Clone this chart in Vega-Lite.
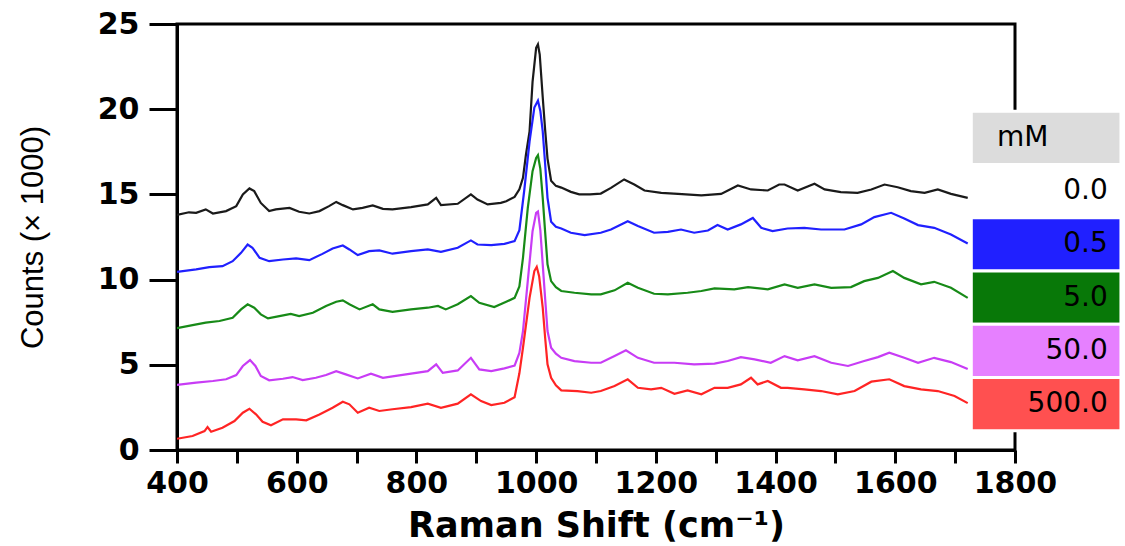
{
  "$schema": "https://vega.github.io/schema/vega-lite/v6.json",
  "background": "white",
  "padding": {"left": 17, "top": 9, "right": 2, "bottom": 2},
  "config": {"view": {"stroke": null}, "font": "DejaVu Sans"},
  "width": 838,
  "height": 426,
  "view": {"stroke": "black", "strokeWidth": 3, "fill": "white"},
  "datasets": {
    "spectra": [
      {"s":"0.0","x":400,"y":13.8},{"s":"0.0","x":420,"y":13.95},{"s":"0.0","x":432,"y":13.92},{"s":"0.0","x":448,"y":14.12},{"s":"0.0","x":460,"y":13.88},{"s":"0.0","x":482,"y":14.02},{"s":"0.0","x":499,"y":14.31},{"s":"0.0","x":510,"y":15.0},{"s":"0.0","x":521,"y":15.35},{"s":"0.0","x":529,"y":15.19},{"s":"0.0","x":540,"y":14.5},{"s":"0.0","x":554,"y":14.02},{"s":"0.0","x":565,"y":14.12},{"s":"0.0","x":588,"y":14.21},{"s":"0.0","x":604,"y":13.98},{"s":"0.0","x":621,"y":13.88},{"s":"0.0","x":638,"y":14.02},{"s":"0.0","x":654,"y":14.31},{"s":"0.0","x":666,"y":14.56},{"s":"0.0","x":677,"y":14.37},{"s":"0.0","x":694,"y":14.12},{"s":"0.0","x":710,"y":14.21},{"s":"0.0","x":727,"y":14.35},{"s":"0.0","x":744,"y":14.15},{"s":"0.0","x":760,"y":14.12},{"s":"0.0","x":791,"y":14.25},{"s":"0.0","x":819,"y":14.41},{"s":"0.0","x":833,"y":14.8},{"s":"0.0","x":841,"y":14.37},{"s":"0.0","x":869,"y":14.45},{"s":"0.0","x":891,"y":15.0},{"s":"0.0","x":902,"y":14.7},{"s":"0.0","x":919,"y":14.41},{"s":"0.0","x":941,"y":14.5},{"s":"0.0","x":950,"y":14.6},{"s":"0.0","x":964,"y":14.85},{"s":"0.0","x":972,"y":15.3},{"s":"0.0","x":978,"y":15.97},{"s":"0.0","x":983,"y":17.34},{"s":"0.0","x":989,"y":18.7},{"s":"0.0","x":994,"y":21.6},{"s":"0.0","x":1000,"y":23.6},{"s":"0.0","x":1003,"y":23.8},{"s":"0.0","x":1006,"y":23.2},{"s":"0.0","x":1011,"y":20.7},{"s":"0.0","x":1015,"y":18.8},{"s":"0.0","x":1019,"y":17.1},{"s":"0.0","x":1025,"y":15.8},{"s":"0.0","x":1033,"y":15.5},{"s":"0.0","x":1042,"y":15.4},{"s":"0.0","x":1058,"y":15.15},{"s":"0.0","x":1072,"y":15.0},{"s":"0.0","x":1090,"y":15.0},{"s":"0.0","x":1108,"y":15.05},{"s":"0.0","x":1125,"y":15.38},{"s":"0.0","x":1147,"y":15.88},{"s":"0.0","x":1164,"y":15.58},{"s":"0.0","x":1181,"y":15.23},{"s":"0.0","x":1209,"y":15.09},{"s":"0.0","x":1237,"y":15.03},{"s":"0.0","x":1276,"y":14.94},{"s":"0.0","x":1309,"y":15.03},{"s":"0.0","x":1337,"y":15.52},{"s":"0.0","x":1359,"y":15.29},{"s":"0.0","x":1387,"y":15.23},{"s":"0.0","x":1406,"y":15.58},{"s":"0.0","x":1415,"y":15.58},{"s":"0.0","x":1437,"y":15.23},{"s":"0.0","x":1465,"y":15.62},{"s":"0.0","x":1482,"y":15.29},{"s":"0.0","x":1509,"y":15.13},{"s":"0.0","x":1537,"y":15.09},{"s":"0.0","x":1560,"y":15.29},{"s":"0.0","x":1582,"y":15.58},{"s":"0.0","x":1604,"y":15.42},{"s":"0.0","x":1626,"y":15.19},{"s":"0.0","x":1649,"y":15.09},{"s":"0.0","x":1671,"y":15.29},{"s":"0.0","x":1693,"y":15.03},{"s":"0.0","x":1721,"y":14.8},
      {"s":"0.5","x":400,"y":10.45},{"s":"0.5","x":432,"y":10.6},{"s":"0.5","x":454,"y":10.73},{"s":"0.5","x":476,"y":10.79},{"s":"0.5","x":493,"y":11.08},{"s":"0.5","x":507,"y":11.57},{"s":"0.5","x":518,"y":12.06},{"s":"0.5","x":526,"y":11.87},{"s":"0.5","x":538,"y":11.28},{"s":"0.5","x":554,"y":11.08},{"s":"0.5","x":577,"y":11.18},{"s":"0.5","x":599,"y":11.24},{"s":"0.5","x":621,"y":11.14},{"s":"0.5","x":643,"y":11.51},{"s":"0.5","x":660,"y":11.83},{"s":"0.5","x":677,"y":12.0},{"s":"0.5","x":688,"y":11.77},{"s":"0.5","x":702,"y":11.44},{"s":"0.5","x":721,"y":11.67},{"s":"0.5","x":738,"y":11.71},{"s":"0.5","x":760,"y":11.52},{"s":"0.5","x":791,"y":11.67},{"s":"0.5","x":819,"y":11.77},{"s":"0.5","x":841,"y":11.63},{"s":"0.5","x":869,"y":11.87},{"s":"0.5","x":891,"y":12.3},{"s":"0.5","x":902,"y":12.06},{"s":"0.5","x":925,"y":12.02},{"s":"0.5","x":947,"y":12.1},{"s":"0.5","x":964,"y":12.26},{"s":"0.5","x":972,"y":12.9},{"s":"0.5","x":980,"y":15.2},{"s":"0.5","x":989,"y":18.1},{"s":"0.5","x":997,"y":20.1},{"s":"0.5","x":1003,"y":20.5},{"s":"0.5","x":1007,"y":19.9},{"s":"0.5","x":1011,"y":18.7},{"s":"0.5","x":1015,"y":16.8},{"s":"0.5","x":1019,"y":14.8},{"s":"0.5","x":1025,"y":13.4},{"s":"0.5","x":1033,"y":13.1},{"s":"0.5","x":1042,"y":13.0},{"s":"0.5","x":1058,"y":12.75},{"s":"0.5","x":1081,"y":12.61},{"s":"0.5","x":1108,"y":12.75},{"s":"0.5","x":1125,"y":12.94},{"s":"0.5","x":1153,"y":13.43},{"s":"0.5","x":1170,"y":13.14},{"s":"0.5","x":1197,"y":12.75},{"s":"0.5","x":1220,"y":12.8},{"s":"0.5","x":1242,"y":12.94},{"s":"0.5","x":1264,"y":12.75},{"s":"0.5","x":1287,"y":12.88},{"s":"0.5","x":1303,"y":13.2},{"s":"0.5","x":1320,"y":12.94},{"s":"0.5","x":1342,"y":13.24},{"s":"0.5","x":1362,"y":13.62},{"s":"0.5","x":1376,"y":13.04},{"s":"0.5","x":1395,"y":12.85},{"s":"0.5","x":1420,"y":13.0},{"s":"0.5","x":1448,"y":13.04},{"s":"0.5","x":1476,"y":12.94},{"s":"0.5","x":1515,"y":12.94},{"s":"0.5","x":1543,"y":13.24},{"s":"0.5","x":1565,"y":13.67},{"s":"0.5","x":1593,"y":13.92},{"s":"0.5","x":1615,"y":13.59},{"s":"0.5","x":1638,"y":13.2},{"s":"0.5","x":1665,"y":13.04},{"s":"0.5","x":1693,"y":12.65},{"s":"0.5","x":1721,"y":12.12},
      {"s":"5.0","x":400,"y":7.15},{"s":"5.0","x":426,"y":7.33},{"s":"5.0","x":448,"y":7.47},{"s":"5.0","x":471,"y":7.57},{"s":"5.0","x":493,"y":7.76},{"s":"5.0","x":507,"y":8.25},{"s":"5.0","x":518,"y":8.55},{"s":"5.0","x":529,"y":8.35},{"s":"5.0","x":540,"y":7.96},{"s":"5.0","x":552,"y":7.72},{"s":"5.0","x":571,"y":7.86},{"s":"5.0","x":590,"y":7.99},{"s":"5.0","x":604,"y":7.86},{"s":"5.0","x":627,"y":8.05},{"s":"5.0","x":649,"y":8.45},{"s":"5.0","x":666,"y":8.7},{"s":"5.0","x":677,"y":8.78},{"s":"5.0","x":688,"y":8.55},{"s":"5.0","x":705,"y":8.25},{"s":"5.0","x":727,"y":8.55},{"s":"5.0","x":738,"y":8.25},{"s":"5.0","x":760,"y":8.11},{"s":"5.0","x":791,"y":8.25},{"s":"5.0","x":819,"y":8.35},{"s":"5.0","x":836,"y":8.45},{"s":"5.0","x":849,"y":8.25},{"s":"5.0","x":869,"y":8.55},{"s":"5.0","x":891,"y":9.03},{"s":"5.0","x":905,"y":8.64},{"s":"5.0","x":930,"y":8.39},{"s":"5.0","x":950,"y":8.7},{"s":"5.0","x":964,"y":8.93},{"s":"5.0","x":972,"y":9.6},{"s":"5.0","x":978,"y":11.28},{"s":"5.0","x":986,"y":14.2},{"s":"5.0","x":994,"y":16.36},{"s":"5.0","x":1000,"y":17.14},{"s":"5.0","x":1003,"y":17.3},{"s":"5.0","x":1007,"y":16.5},{"s":"5.0","x":1011,"y":14.8},{"s":"5.0","x":1015,"y":12.8},{"s":"5.0","x":1019,"y":10.9},{"s":"5.0","x":1025,"y":9.91},{"s":"5.0","x":1033,"y":9.55},{"s":"5.0","x":1042,"y":9.33},{"s":"5.0","x":1064,"y":9.23},{"s":"5.0","x":1092,"y":9.13},{"s":"5.0","x":1108,"y":9.13},{"s":"5.0","x":1131,"y":9.37},{"s":"5.0","x":1153,"y":9.81},{"s":"5.0","x":1170,"y":9.52},{"s":"5.0","x":1197,"y":9.17},{"s":"5.0","x":1220,"y":9.13},{"s":"5.0","x":1253,"y":9.23},{"s":"5.0","x":1276,"y":9.33},{"s":"5.0","x":1298,"y":9.48},{"s":"5.0","x":1331,"y":9.43},{"s":"5.0","x":1354,"y":9.56},{"s":"5.0","x":1387,"y":9.43},{"s":"5.0","x":1415,"y":9.72},{"s":"5.0","x":1437,"y":9.52},{"s":"5.0","x":1465,"y":9.72},{"s":"5.0","x":1493,"y":9.52},{"s":"5.0","x":1526,"y":9.56},{"s":"5.0","x":1548,"y":9.91},{"s":"5.0","x":1571,"y":10.1},{"s":"5.0","x":1596,"y":10.5},{"s":"5.0","x":1615,"y":10.1},{"s":"5.0","x":1643,"y":9.72},{"s":"5.0","x":1665,"y":9.87},{"s":"5.0","x":1693,"y":9.52},{"s":"5.0","x":1721,"y":8.93},
      {"s":"50.0","x":400,"y":3.82},{"s":"50.0","x":432,"y":3.95},{"s":"50.0","x":460,"y":4.05},{"s":"50.0","x":482,"y":4.15},{"s":"50.0","x":499,"y":4.4},{"s":"50.0","x":510,"y":4.93},{"s":"50.0","x":522,"y":5.28},{"s":"50.0","x":531,"y":4.93},{"s":"50.0","x":540,"y":4.34},{"s":"50.0","x":554,"y":4.09},{"s":"50.0","x":577,"y":4.18},{"s":"50.0","x":593,"y":4.28},{"s":"50.0","x":610,"y":4.1},{"s":"50.0","x":632,"y":4.24},{"s":"50.0","x":649,"y":4.4},{"s":"50.0","x":666,"y":4.63},{"s":"50.0","x":682,"y":4.44},{"s":"50.0","x":702,"y":4.2},{"s":"50.0","x":724,"y":4.48},{"s":"50.0","x":744,"y":4.24},{"s":"50.0","x":760,"y":4.32},{"s":"50.0","x":791,"y":4.48},{"s":"50.0","x":819,"y":4.63},{"s":"50.0","x":833,"y":5.03},{"s":"50.0","x":844,"y":4.53},{"s":"50.0","x":869,"y":4.67},{"s":"50.0","x":891,"y":5.41},{"s":"50.0","x":905,"y":4.73},{"s":"50.0","x":925,"y":4.63},{"s":"50.0","x":947,"y":4.79},{"s":"50.0","x":964,"y":4.95},{"s":"50.0","x":972,"y":5.7},{"s":"50.0","x":978,"y":6.98},{"s":"50.0","x":986,"y":9.91},{"s":"50.0","x":994,"y":12.84},{"s":"50.0","x":1000,"y":13.92},{"s":"50.0","x":1003,"y":14.0},{"s":"50.0","x":1007,"y":12.9},{"s":"50.0","x":1011,"y":10.89},{"s":"50.0","x":1015,"y":8.9},{"s":"50.0","x":1019,"y":6.98},{"s":"50.0","x":1025,"y":6.0},{"s":"50.0","x":1033,"y":5.65},{"s":"50.0","x":1042,"y":5.41},{"s":"50.0","x":1064,"y":5.22},{"s":"50.0","x":1092,"y":5.12},{"s":"50.0","x":1108,"y":5.12},{"s":"50.0","x":1131,"y":5.51},{"s":"50.0","x":1150,"y":5.85},{"s":"50.0","x":1170,"y":5.41},{"s":"50.0","x":1197,"y":5.12},{"s":"50.0","x":1231,"y":5.12},{"s":"50.0","x":1264,"y":5.03},{"s":"50.0","x":1298,"y":5.07},{"s":"50.0","x":1320,"y":5.22},{"s":"50.0","x":1342,"y":5.45},{"s":"50.0","x":1365,"y":5.32},{"s":"50.0","x":1392,"y":5.12},{"s":"50.0","x":1415,"y":5.51},{"s":"50.0","x":1437,"y":5.26},{"s":"50.0","x":1465,"y":5.51},{"s":"50.0","x":1493,"y":5.12},{"s":"50.0","x":1521,"y":4.93},{"s":"50.0","x":1548,"y":5.22},{"s":"50.0","x":1571,"y":5.45},{"s":"50.0","x":1590,"y":5.71},{"s":"50.0","x":1615,"y":5.41},{"s":"50.0","x":1638,"y":5.12},{"s":"50.0","x":1665,"y":5.41},{"s":"50.0","x":1693,"y":5.16},{"s":"50.0","x":1721,"y":4.75},
      {"s":"500.0","x":400,"y":0.66},{"s":"500.0","x":426,"y":0.82},{"s":"500.0","x":446,"y":1.11},{"s":"500.0","x":451,"y":1.35},{"s":"500.0","x":457,"y":1.07},{"s":"500.0","x":476,"y":1.31},{"s":"500.0","x":496,"y":1.7},{"s":"500.0","x":510,"y":2.19},{"s":"500.0","x":521,"y":2.42},{"s":"500.0","x":532,"y":2.09},{"s":"500.0","x":543,"y":1.66},{"s":"500.0","x":557,"y":1.45},{"s":"500.0","x":577,"y":1.8},{"s":"500.0","x":599,"y":1.8},{"s":"500.0","x":616,"y":1.74},{"s":"500.0","x":638,"y":2.09},{"s":"500.0","x":660,"y":2.48},{"s":"500.0","x":677,"y":2.83},{"s":"500.0","x":688,"y":2.68},{"s":"500.0","x":702,"y":2.19},{"s":"500.0","x":721,"y":2.48},{"s":"500.0","x":738,"y":2.29},{"s":"500.0","x":760,"y":2.39},{"s":"500.0","x":791,"y":2.52},{"s":"500.0","x":819,"y":2.72},{"s":"500.0","x":841,"y":2.48},{"s":"500.0","x":869,"y":2.72},{"s":"500.0","x":891,"y":3.27},{"s":"500.0","x":908,"y":2.87},{"s":"500.0","x":925,"y":2.64},{"s":"500.0","x":947,"y":2.77},{"s":"500.0","x":964,"y":3.1},{"s":"500.0","x":972,"y":4.5},{"s":"500.0","x":978,"y":6.0},{"s":"500.0","x":989,"y":8.93},{"s":"500.0","x":997,"y":10.5},{"s":"500.0","x":1001,"y":10.75},{"s":"500.0","x":1005,"y":10.2},{"s":"500.0","x":1011,"y":8.35},{"s":"500.0","x":1015,"y":6.6},{"s":"500.0","x":1019,"y":5.03},{"s":"500.0","x":1025,"y":4.24},{"s":"500.0","x":1033,"y":3.8},{"s":"500.0","x":1042,"y":3.5},{"s":"500.0","x":1069,"y":3.46},{"s":"500.0","x":1092,"y":3.36},{"s":"500.0","x":1108,"y":3.46},{"s":"500.0","x":1131,"y":3.75},{"s":"500.0","x":1153,"y":4.15},{"s":"500.0","x":1170,"y":3.65},{"s":"500.0","x":1192,"y":3.56},{"s":"500.0","x":1209,"y":3.65},{"s":"500.0","x":1231,"y":3.3},{"s":"500.0","x":1253,"y":3.5},{"s":"500.0","x":1276,"y":3.27},{"s":"500.0","x":1298,"y":3.65},{"s":"500.0","x":1320,"y":3.65},{"s":"500.0","x":1342,"y":3.85},{"s":"500.0","x":1359,"y":4.24},{"s":"500.0","x":1370,"y":3.85},{"s":"500.0","x":1387,"y":4.05},{"s":"500.0","x":1409,"y":3.65},{"s":"500.0","x":1420,"y":3.65},{"s":"500.0","x":1448,"y":3.56},{"s":"500.0","x":1476,"y":3.46},{"s":"500.0","x":1504,"y":3.27},{"s":"500.0","x":1532,"y":3.46},{"s":"500.0","x":1560,"y":4.01},{"s":"500.0","x":1590,"y":4.15},{"s":"500.0","x":1615,"y":3.75},{"s":"500.0","x":1643,"y":3.56},{"s":"500.0","x":1671,"y":3.46},{"s":"500.0","x":1699,"y":3.17},{"s":"500.0","x":1721,"y":2.75}
    ],
    "legend": [
      {"k": "mM"}, {"k": "0.0"}, {"k": "0.5"}, {"k": "5.0"}, {"k": "50.0"}, {"k": "500.0"}
    ]
  },
  "layer": [
    {
      "data": {"name": "spectra"},
      "mark": {"type": "line", "strokeWidth": 2.2, "clip": true},
      "encoding": {
        "x": {
          "field": "x", "type": "quantitative",
          "scale": {"domain": [400, 1800], "nice": false, "zero": false},
          "axis": {
            "title": "Raman Shift (cm⁻¹)",
            "values": [400, 500, 600, 700, 800, 900, 1000, 1100, 1200, 1300, 1400, 1500, 1600, 1700, 1800],
            "format": "d",
            "labelExpr": "datum.value % 200 === 0 ? datum.label : ''",
            "grid": false,
            "domainColor": "black", "domainWidth": 3,
            "tickColor": "black", "tickWidth": 3, "tickSize": 13,
            "labelFont": "DejaVu Sans", "labelFontWeight": "bold", "labelFontSize": 30, "labelColor": "black",
            "labelPadding": 5, "labelFlush": false, "labelOverlap": false,
            "titleFont": "DejaVu Sans", "titleFontWeight": "bold", "titleFontSize": 35, "titleColor": "black",
            "titlePadding": 10
          }
        },
        "y": {
          "field": "y", "type": "quantitative",
          "scale": {"domain": [0, 25], "nice": false},
          "axis": {
            "title": "Counts (× 1000)",
            "values": [0, 5, 10, 15, 20, 25],
            "grid": false,
            "domainColor": "black", "domainWidth": 3,
            "tickColor": "black", "tickWidth": 3, "tickSize": 28,
            "labelFont": "DejaVu Sans", "labelFontWeight": "bold", "labelFontSize": 30, "labelColor": "black",
            "labelPadding": 10,
            "titleFont": "Liberation Sans", "titleFontWeight": "normal", "titleFontSize": 31, "titleColor": "black",
            "titlePadding": 48
          }
        },
        "color": {
          "field": "s", "type": "nominal",
          "scale": {"domain": ["0.0", "0.5", "5.0", "50.0", "500.0"], "range": ["#1a1a1a", "#2020ff", "#178a17", "#c83cf5", "#ff2424"]},
          "legend": null
        }
      }
    },
    {
      "data": {"name": "legend"},
      "encoding": {
        "y": {
          "field": "k", "type": "nominal", "sort": null,
          "scale": {"domain": ["mM", "0.0", "0.5", "5.0", "50.0", "500.0"], "paddingInner": 0, "paddingOuter": 1.096, "align": 0.82},
          "axis": null
        }
      },
      "layer": [
        {
          "mark": {"type": "rect", "stroke": "white", "strokeWidth": 3},
          "encoding": {
            "x": {"datum": 1727},
            "x2": {"datum": 1977},
            "fill": {
              "field": "k", "type": "nominal",
              "scale": {"domain": ["mM", "0.0", "0.5", "5.0", "50.0", "500.0"], "range": ["#dcdcdc", "#ffffff", "#2020ff", "#087808", "#e680ff", "#ff5050"]},
              "legend": null
            }
          }
        },
        {
          "transform": [{"filter": "datum.k !== 'mM'"}],
          "mark": {"type": "text", "align": "right", "baseline": "middle", "font": "DejaVu Sans", "fontSize": 28, "color": "black"},
          "encoding": {"x": {"datum": 1955}, "text": {"field": "k"}}
        },
        {
          "transform": [{"filter": "datum.k === 'mM'"}],
          "mark": {"type": "text", "align": "center", "baseline": "middle", "font": "DejaVu Sans", "fontSize": 28, "color": "black"},
          "encoding": {"x": {"datum": 1813}, "text": {"field": "k"}}
        }
      ]
    }
  ],
  "resolve": {"scale": {"y": "independent"}, "axis": {"y": "independent"}}
}
